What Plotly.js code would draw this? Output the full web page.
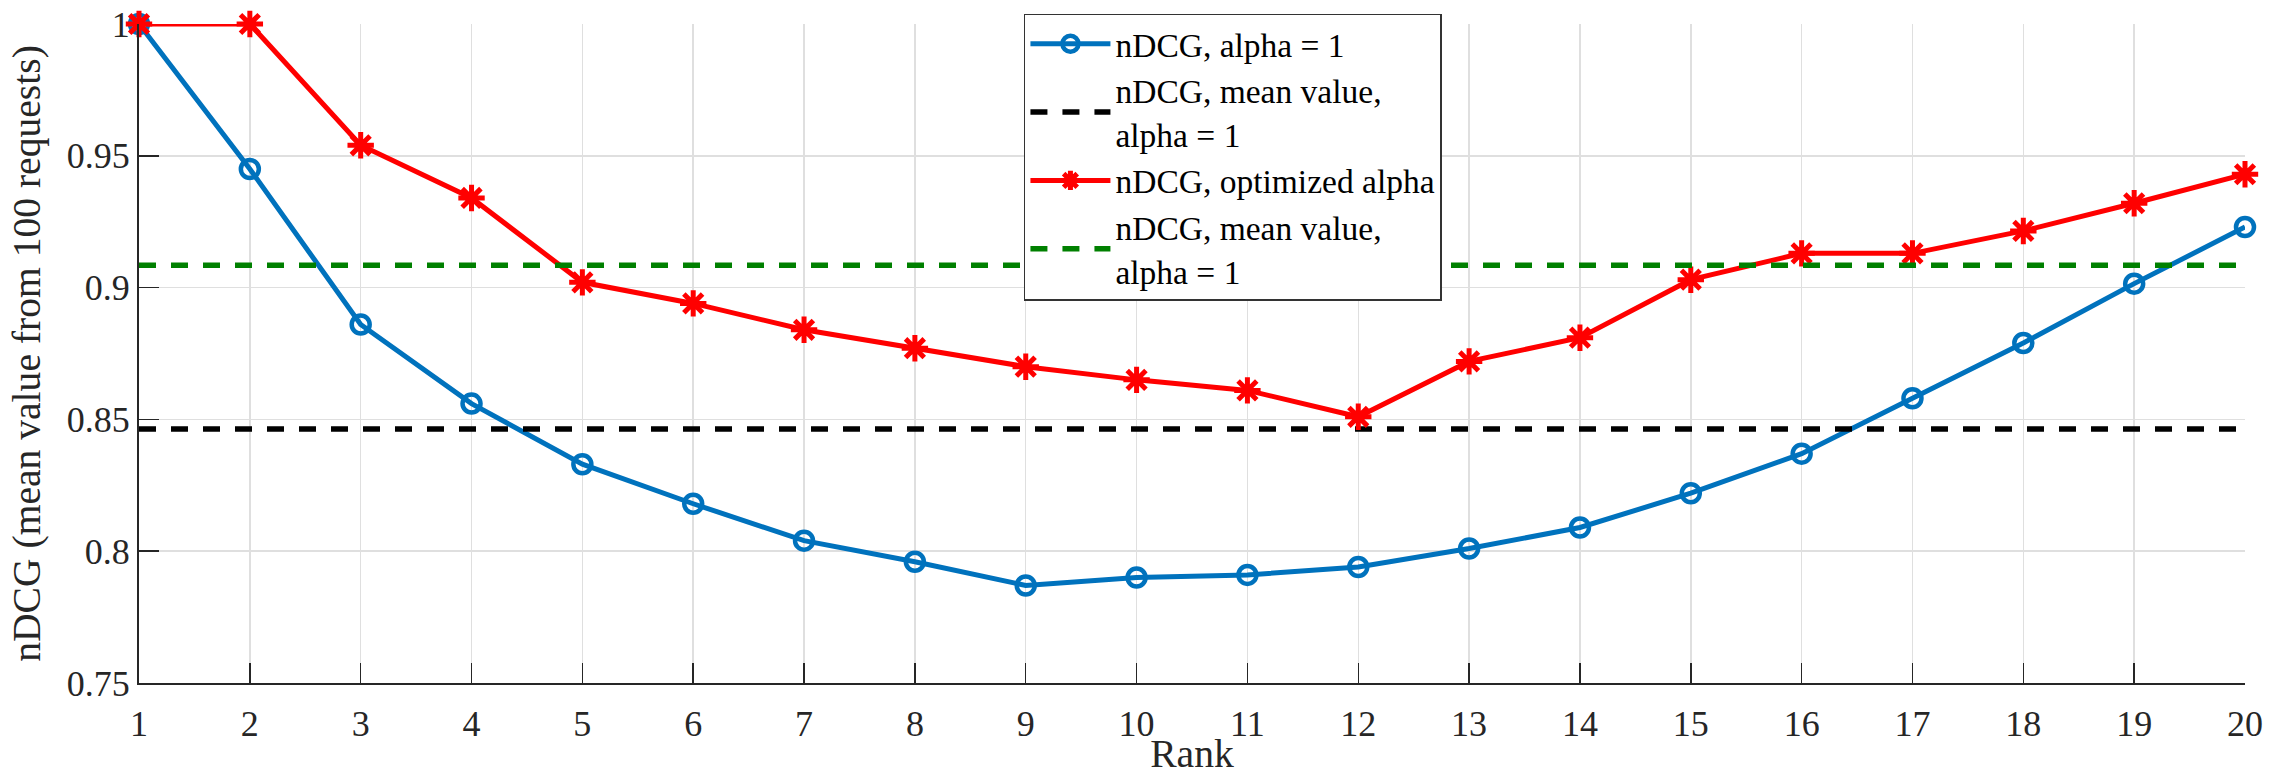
<!DOCTYPE html>
<html>
<head>
<meta charset="utf-8">
<script src="https://cdn.plot.ly/plotly-3.0.1.min.js"></script>
<style>
html,body{margin:0;padding:0;background:#fff;}
#chart{width:2269px;height:776px;}
</style>
</head>
<body>
<div id="chart"></div>
<script>
const ranks = [1,2,3,4,5,6,7,8,9,10,11,12,13,14,15,16,17,18,19,20];
const ndcgAlpha1 = [1.0,0.945,0.886,0.856,0.833,0.818,0.804,0.796,0.787,0.790,0.791,0.794,0.801,0.809,0.822,0.837,0.858,0.879,0.9015,0.923];
const ndcgOptimized = [1.0,1.0,0.954,0.934,0.902,0.894,0.884,0.877,0.870,0.865,0.861,0.851,0.872,0.881,0.903,0.913,0.913,0.9215,0.932,0.943];
const meanAlpha1Black = 0.8464;
const meanAlpha1Green = 0.9085;
const xTicks = ranks;
const yTicks = [0.75,0.8,0.85,0.9,0.95,1];
const yTickText = ['0.75','0.8','0.85','0.9','0.95','1'];
const names = ['nDCG, alpha = 1','nDCG, mean value,<br>alpha = 1','nDCG, optimized alpha','nDCG, mean value,<br>alpha = 1'];

const FONT = '"Liberation Serif", "Times New Roman", serif';
const xEnds = [ranks[0], ranks[ranks.length-1]];

const traces = [
  {x: ranks, y: ndcgAlpha1, name: names[0], mode: 'lines+markers', cliponaxis: false,
   line: {color: '#0072BD', width: 5},
   marker: {symbol: 'circle-open', size: 18, color: '#0072BD', line: {width: 4.5, color: '#0072BD'}}},
  {x: xEnds, y: [meanAlpha1Black, meanAlpha1Black], name: names[1], mode: 'lines',
   line: {color: '#000000', width: 5.5, dash: '17px,15px'}},
  {x: ranks, y: ndcgOptimized, name: names[2], mode: 'lines+markers', cliponaxis: false,
   line: {color: '#FF0000', width: 5},
   marker: {symbol: 'asterisk-open', size: 22, color: '#FF0000', line: {width: 5, color: '#FF0000'}}},
  {x: xEnds, y: [meanAlpha1Green, meanAlpha1Green], name: names[3], mode: 'lines',
   line: {color: '#008000', width: 5.5, dash: '17px,15px'}}
];

const layout = {
  width: 2269, height: 776,
  margin: {l: 139, r: 24, t: 24, b: 93, pad: 0},
  paper_bgcolor: '#ffffff', plot_bgcolor: '#ffffff',
  font: {family: FONT, size: 36, color: '#262626'},
  showlegend: true,
  legend: {
    x: 0.4202, y: 1.0152, xanchor: 'left', yanchor: 'top',
    bgcolor: '#ffffff', bordercolor: '#333333', borderwidth: 1.5,
    font: {family: FONT, size: 33.5, color: '#000000'},
    itemwidth: 80, tracegroupgap: 0, traceorder: 'normal'
  },
  xaxis: {
    range: [1, 20], tickmode: 'array', tickvals: xTicks, ticktext: xTicks.map(String),
    showgrid: true, gridcolor: '#dfdfdf', gridwidth: 1.5,
    zeroline: false, showline: true, linecolor: '#262626', linewidth: 2,
    ticks: 'inside', ticklen: 20, tickwidth: 1.5, tickcolor: '#262626',
    ticklabelstandoff: 8,
    mirror: false, tickfont: {family: FONT, size: 36, color: '#262626'},
    title: {text: 'Rank', font: {family: FONT, size: 39.6, color: '#262626'}, standoff: 4}
  },
  yaxis: {
    range: [0.75, 1], tickmode: 'array', tickvals: yTicks, ticktext: yTickText,
    showgrid: true, gridcolor: '#dfdfdf', gridwidth: 1.5,
    zeroline: false, showline: true, linecolor: '#262626', linewidth: 2,
    ticks: 'inside', ticklen: 20, tickwidth: 1.5, tickcolor: '#262626',
    mirror: false, tickfont: {family: FONT, size: 36, color: '#262626'},
    title: {text: 'nDCG (mean value from 100 requests)', font: {family: FONT, size: 39.6, color: '#262626'}, standoff: 14}
  }
};

Plotly.newPlot('chart', traces, layout, {displayModeBar: false, staticPlot: true});
</script>
</body>
</html>
